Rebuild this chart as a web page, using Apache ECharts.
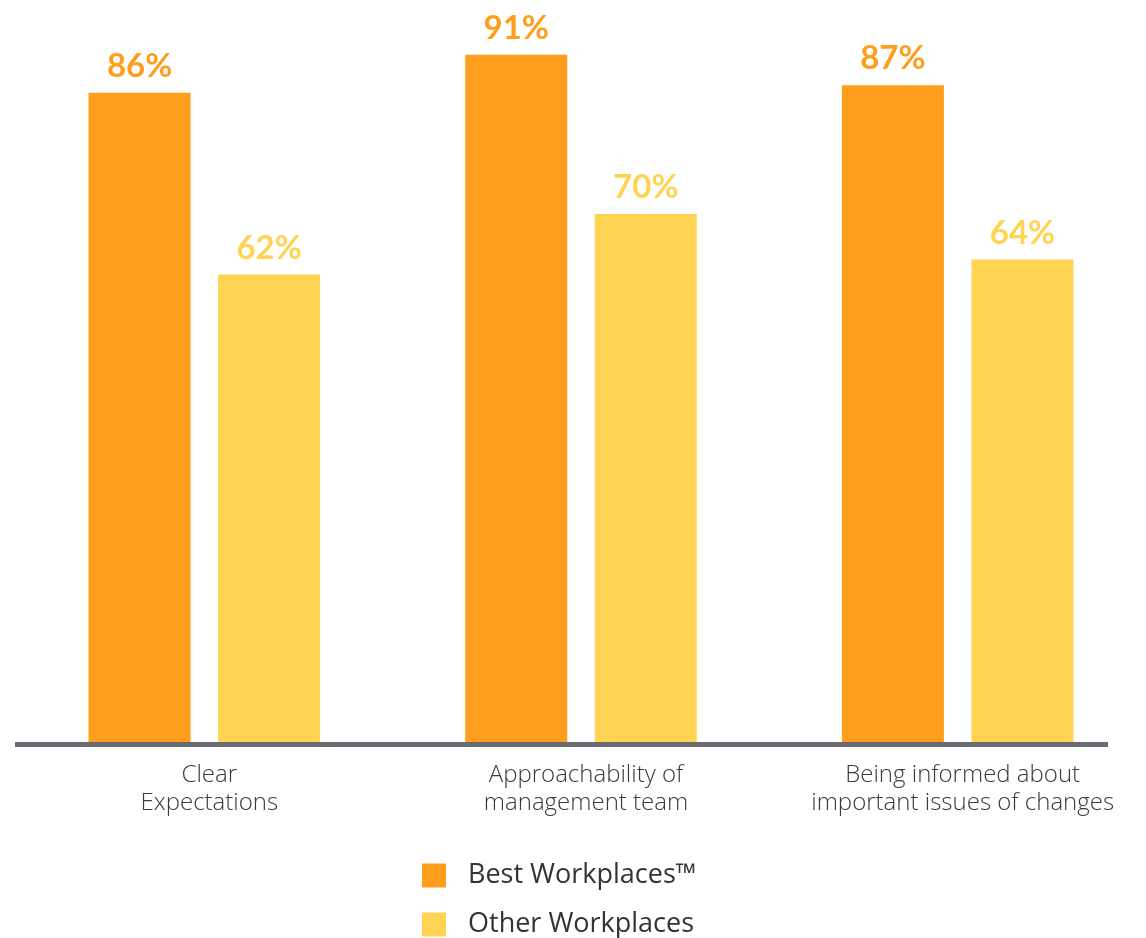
<!DOCTYPE html>
<html>
<head>
<meta charset="utf-8">
<script src="https://cdn.jsdelivr.net/npm/echarts@6/dist/echarts.min.js"></script>
<style>
  html, body { margin: 0; padding: 0; background: #fff; }
  #chartDiv { width: 1146px; height: 938px; }
</style>
</head>
<body>
<div id="chartDiv"></div>
<script>
// categories
const categories = [
  'Clear\nExpectations',
  'Approachability of\nmanagement team',
  'Being informed about\nimportant issues of changes'
]
// Best Workplaces values (%)
const bestValues = [86, 91, 87]
// Other Workplaces values (%)
const otherValues = [62, 70, 64]

const orange = '#FF9E1C'
const yellow = '#FFD452'

const chart = echarts.init(document.getElementById('chartDiv'))

// 柱顶数值标签
const valueLabel = (color) => ({
  show: true,
  position: 'top',
  distance: 10,
  formatter: '{c}%',
  fontFamily: 'Lato',
  fontWeight: 'bold',
  fontSize: 33,
  color: color
})

const option = {
  animation: false,
  grid: {
    left: 16,
    right: 0,
    top: 24.5,
    bottom: 193.5
  },
  legend: {
    orient: 'vertical',
    left: 422,
    top: 862,
    height: 140,
    padding: 0,
    itemWidth: 24,
    itemHeight: 24,
    itemGap: 22,
    icon: 'rect',
    textStyle: {
      fontFamily: 'Open Sans',
      fontSize: 27,
      lineHeight: 24,
      color: '#333333',
      padding: [0, 0, 0, 17]
    },
    data: ['Best Workplaces™', 'Other Workplaces']
  },
  xAxis: {
    type: 'category',
    data: categories,
    axisLine: { show: false },
    axisTick: { show: false },
    axisLabel: {
      interval: 0,
      margin: 17,
      fontFamily: 'Open Sans',
      fontWeight: 300,
      fontSize: 24,
      lineHeight: 28,
      color: '#3a3a3a',
      padding: [0, 0, 0, 10]
    }
  },
  yAxis: {
    type: 'value',
    min: 0,
    max: 95,
    show: false
  },
  series: [
    {
      name: 'Best Workplaces™',
      type: 'bar',
      barWidth: 102,
      barGap: '27%',
      itemStyle: { color: orange },
      label: valueLabel(orange),
      data: bestValues
    },
    {
      name: 'Other Workplaces',
      type: 'bar',
      barWidth: 102,
      barGap: '27%',
      itemStyle: { color: yellow },
      label: valueLabel(yellow),
      data: otherValues
    }
  ],
  // 底部的灰色横线（比网格短一点）
  graphic: [
    {
      type: 'rect',
      z: 100,
      shape: { x: 15, y: 742, width: 1093, height: 5 },
      style: { fill: '#6A6A72' }
    }
  ]
}

chart.setOption(option)
</script>
</body>
</html>
